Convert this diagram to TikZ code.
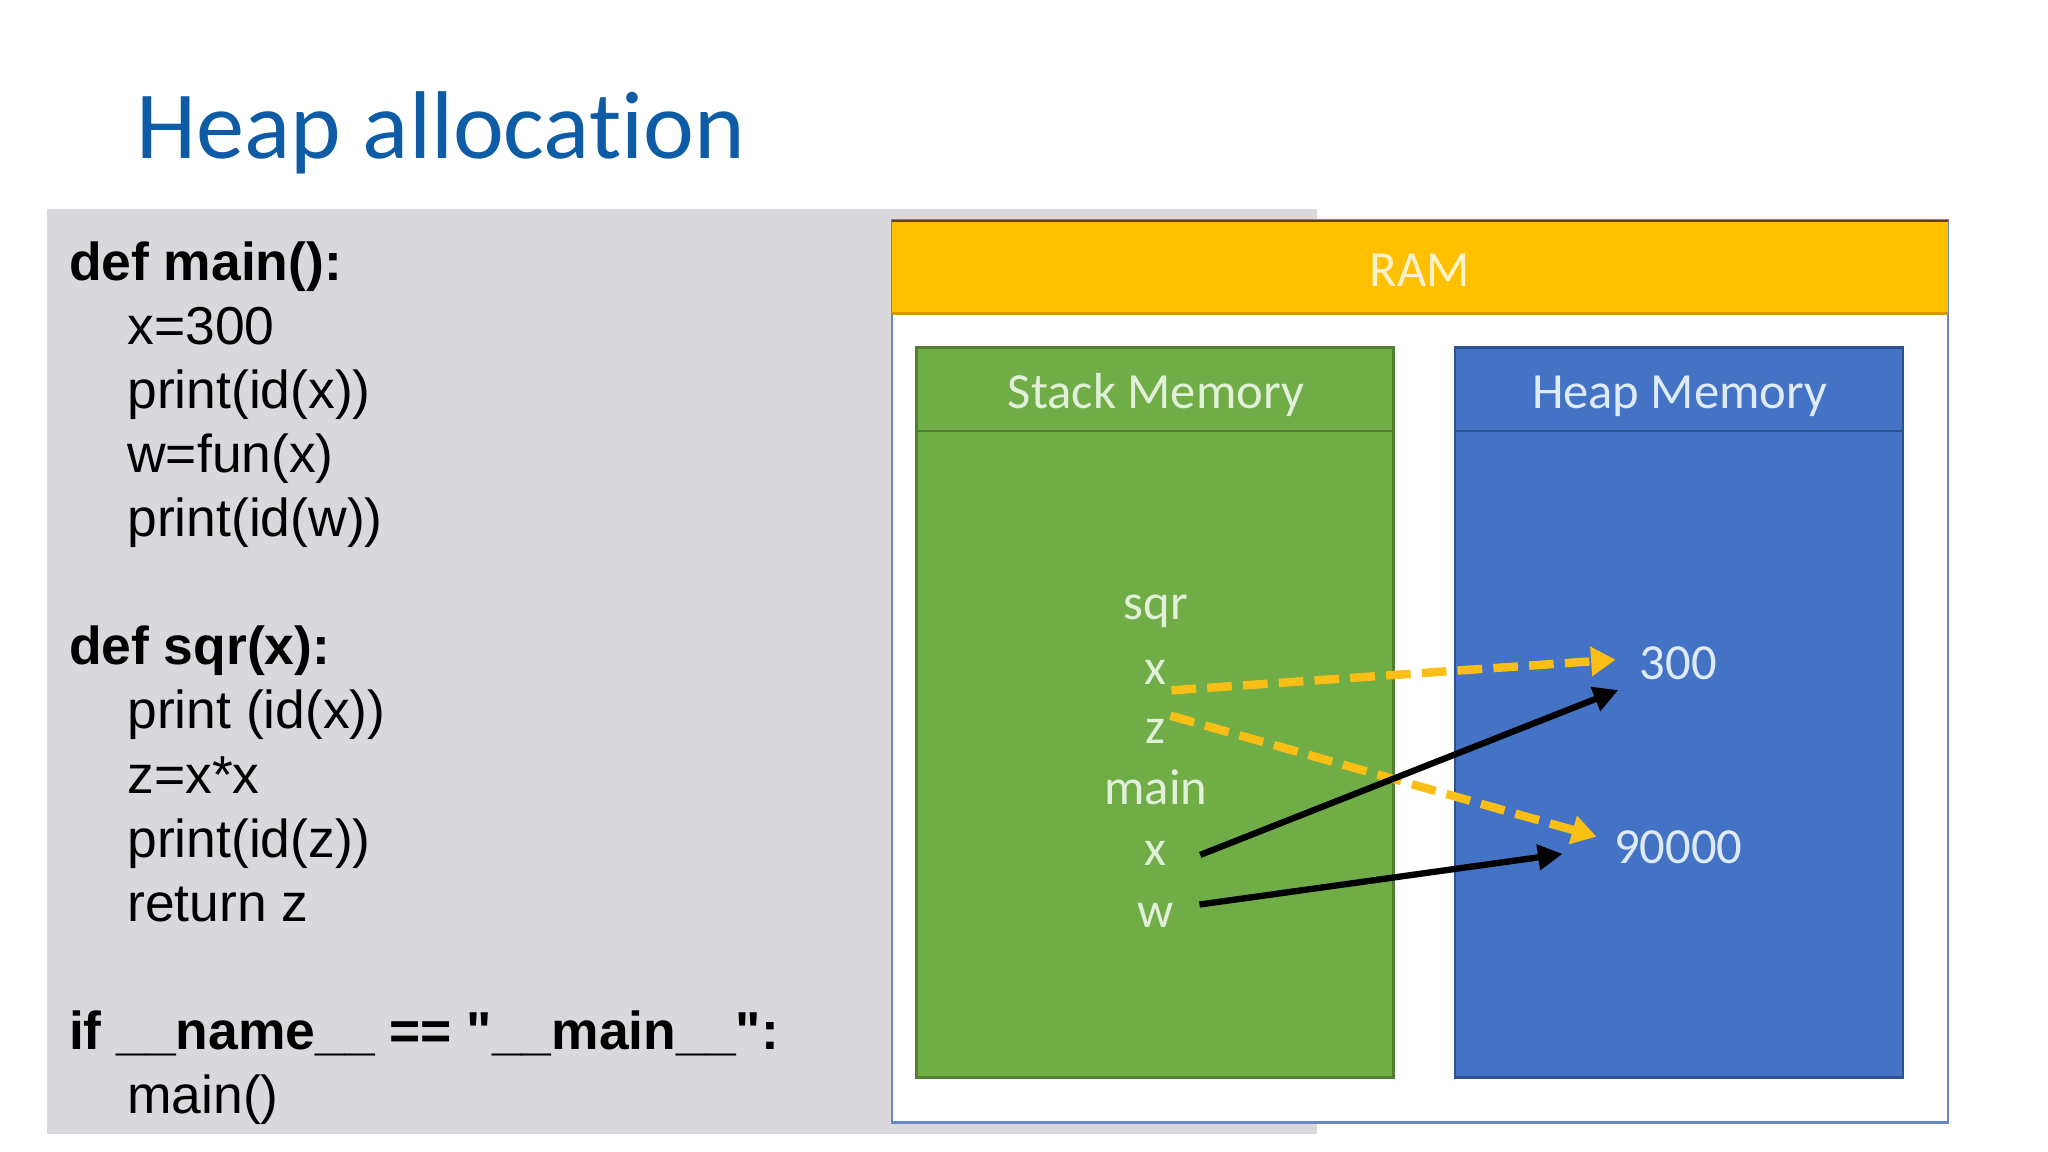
\documentclass[tikz,border=0pt]{standalone}
\usepackage{fontspec}
\setmainfont{Liberation Sans}
\newfontfamily\codefont{Liberation Sans}
\newfontfamily\calibri[Ligatures={NoCommon}]{Carlito}
\usetikzlibrary{arrows.meta}

\definecolor{titleblue}{RGB}{14,91,166}
\definecolor{codegray}{RGB}{217,216,220}
\definecolor{ramyellow}{RGB}{255,192,0}
\definecolor{ramedge}{RGB}{214,150,0}
\definecolor{ramline}{RGB}{90,70,20}
\definecolor{ramborder}{RGB}{100,135,200}
\definecolor{ramtext}{RGB}{255,242,204}
\definecolor{stackgreen}{RGB}{112,173,71}
\definecolor{stackedge}{RGB}{80,126,50}
\definecolor{stacktext}{RGB}{226,240,217}
\definecolor{heapblue}{RGB}{68,114,196}
\definecolor{heapedge}{RGB}{47,82,143}
\definecolor{heaptext}{RGB}{222,235,247}
\definecolor{refyellow}{RGB}{250,190,20}

\tikzset{
  codeline/.style={anchor=base west, inner sep=0pt, font=\codefont\fontsize{15.2}{18}\selectfont},
  codehead/.style={codeline, font=\codefont\fontsize{15.2}{18}\selectfont\bfseries},
  memtext/.style={anchor=base, inner sep=0pt, font=\calibri\fontsize{14.4}{17}\selectfont},
  refarrow/.style={-{Triangle[length=7pt,width=8pt]}, line width=2.4pt, refyellow, dash pattern=on 7pt off 3.2pt},
  ptrarrow/.style={-{Triangle[length=7pt,width=7pt]}, line width=1.8pt, black}
}

\begin{document}
\begin{tikzpicture}[x=0.013061cm, y=-0.013061cm]

  \useasboundingbox (0,0) rectangle (1568,882);
  \fill[white] (0,0) rectangle (1568,882);

  \node[anchor=base west, inner sep=0pt, text=titleblue,
    font=\calibri\fontsize{27.4}{33}\selectfont] (title) at (104,121) {Heap allocation};

  \fill[codegray] (36,160) rectangle (1008,868.5);

  \node[codehead] (defmain) at (52.3,214.4) {def main():};
  \node[codeline] (code1) at (97,263.5) {x=300};
  \node[codeline] (code2) at (97,312.6) {print(id(x))};
  \node[codeline] (code3) at (97,361.7) {w=fun(x)};
  \node[codeline] (code4) at (97,410.8) {print(id(w))};
  \node[codehead] (defsqr) at (52.3,509) {def sqr(x):};
  \node[codeline] (code5) at (97,558.1) {print (id(x))};
  \node[codeline] (code6) at (97,607.2) {z=x*x};
  \node[codeline] (code7) at (97,656.3) {print(id(z))};
  \node[codeline] (code8) at (97,705.4) {return z};
  \node[codehead] (ifmain) at (52.3,803.6) {if \_\_name\_\_ == "\_\_main\_\_":};
  \node[codeline] (code9) at (97,852.7) {main()};

  \draw[ramborder, fill=white, line width=0.8pt] (683,169) rectangle (1491.5,859.3);
  \fill[ramyellow] (683,169) rectangle (1491.5,240);
  \draw[ramedge, line width=0.6pt] (683,240) -- (1491.5,240);
  \draw[ramline, line width=0.6pt] (683,169) -- (1491.5,169);
  \node[memtext, text=ramtext] (ram) at (1087,219) {RAM};

  \draw[stackedge, fill=stackgreen, line width=0.8pt] (702,266) rectangle (1067,825);
  \draw[stackedge, line width=0.8pt] (702,330) -- (1067,330);
  \node[memtext, text=stacktext] (stack) at (885,313) {Stack Memory};

  \draw[heapedge, fill=heapblue, line width=0.8pt] (1114,266) rectangle (1457,825);
  \draw[heapedge, line width=0.8pt] (1114,330) -- (1457,330);
  \node[memtext, text=heaptext] (heap) at (1286,313) {Heap Memory};

  \node[memtext, text=stacktext] (sqr) at (885,474) {sqr};
  \node[memtext, text=stacktext] (sqrx) at (885,524) {x};
  \node[memtext, text=stacktext] (sqrz) at (885,569) {z};
  \node[memtext, text=stacktext] (main) at (885,616) {main};
  \node[memtext, text=stacktext] (mainx) at (885,663) {x};
  \node[memtext, text=stacktext] (mainw) at (885,710) {w};

  \node[memtext, text=heaptext] (val300) at (1285,520.5) {300};
  \node[memtext, text=heaptext] (val90000) at (1285,661) {90000};

  \draw[refarrow] ([shift={(3,4)}]sqrx.south east) -- ([shift={(-18,-3)}]val300.west);
  \draw[refarrow] ([shift={(3,-2)}]sqrz.north east) -- ([shift={(-13,-8)}]val90000.west);
  \draw[ptrarrow] ([shift={(25,-9)}]mainx.south east) -- ([shift={(-16,7)}]val300.south west);
  \draw[ptrarrow] ([shift={(19,-18)}]mainw.south east) -- ([shift={(-39,-8)}]val90000.south west);

\end{tikzpicture}
\end{document}
